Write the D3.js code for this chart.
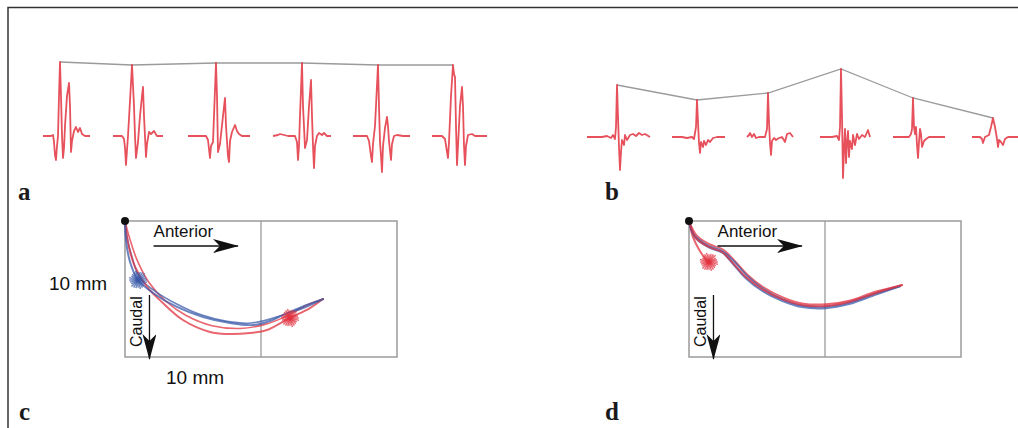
<!DOCTYPE html>
<html>
<head>
<meta charset="utf-8">
<script src="https://cdn.jsdelivr.net/npm/d3@7"></script>
<style>
  html, body { margin: 0; padding: 0; background: #fff; }
  svg { display: block; }
  .panel-label { font-family: "Liberation Serif", "DejaVu Serif", serif; font-weight: bold; fill: #1a1a1a; }
  .axis-text { font-family: "Liberation Sans", Arial, sans-serif; fill: #111; }
</style>
</head>
<body>
<svg id="fig" width="1018" height="428"></svg>
<script>
// ---- data: panel a (six responses, [time ms, amplitude]) ----
var onsetA = [0, 70, 145, 230, 310, 389];
var waveA1 = [[0,0],[8,0],[10,1],[11,-6],[12,-19],[13,-24],[14,-10],[15,0],[16,40],[17,74],[18,40],[19,0],[20,-22],[21,-12],[22,10],[24,40],[26,53],[27,30],[28,-16],[29,-5],[31,5],[33,9],[35,4],[37,8],[39,2],[42,0],[47,0]];
var waveA2 = [[0,0],[9,0],[11,-3],[12,-12],[13,-29],[14,-14],[15,0],[17,35],[19,71],[21,30],[22,0],[23,-22],[25,-6],[27,20],[29,40],[30,49],[31,20],[33,-21],[34,-8],[36,4],[38,2],[41,5],[44,0],[50,0]];
var waveA3 = [[0,0],[18,0],[20,-4],[22,-22],[23,-10],[25,-6],[26,20],[28,73],[29,40],[30,-16],[32,-8],[35,20],[37,38],[38,10],[40,-20],[41,-26],[42,-5],[44,4],[47,11],[49,5],[51,2],[54,0],[62,0]];
var waveA4 = [[0,0],[5,1],[7,2],[15,0],[22,0],[24,-6],[25,-24],[26,-10],[27,20],[29,73],[30,30],[32,-12],[34,-4],[36,30],[38,56],[39,20],[40,-10],[41,-32],[42,-10],[44,0],[46,3],[49,1],[51,3],[54,0],[58,0]];
var waveA5 = [[0,0],[14,0],[16,-5],[18,-20],[19,-26],[20,-8],[22,10],[25,71],[26,30],[27,-6],[28,-20],[29,-36],[30,-10],[32,8],[34,19],[35,10],[36,-5],[38,-24],[39,-8],[41,0],[44,1],[50,0],[57,0]];
var waveA6 = [[0,0],[10,0],[13,-3],[15,-16],[16,-22],[17,-6],[19,40],[21,71],[22,62],[23,59],[24,10],[25,-29],[26,-10],[28,30],[30,49],[31,30],[32,-10],[33,-29],[34,-10],[36,1],[40,2],[43,0],[48,0],[55,0]];

// ---- data: panel b ----
var onsetB = [0, 85, 160, 233, 306, 385];
var waveB1 = [[0,0],[15,0],[20,1],[24,-1],[26,2],[28,-2],[29,10],[30,52],[31,20],[32,-10],[33,-33],[34,-15],[35,-3],[37,-8],[38,2],[40,-3],[43,2],[46,3],[49,1],[52,4],[55,2],[58,3],[63,0]];
var waveB2 = [[0,0],[10,0],[15,-1],[20,0],[22,-2],[24,10],[25,37],[26,15],[27,-6],[28,-16],[29,-5],[31,-10],[32,-4],[34,-8],[36,-3],[38,-5],[41,-1],[45,0],[53,0]];
var waveB3 = [[0,0],[2,2],[3,4],[5,0],[7,3],[9,-1],[12,0],[18,0],[20,8],[21,44],[22,15],[23,-6],[24,-18],[25,-4],[27,-1],[29,-3],[32,-1],[35,0],[38,-5],[40,3],[43,4],[46,0]];
var waveB4 = [[0,0],[12,0],[17,1],[19,-3],[20,10],[21,68],[22,20],[23,-41],[24,-12],[25,8],[26,-26],[27,-5],[28,6],[29,-20],[30,-4],[32,-12],[33,2],[35,-8],[37,3],[39,-2],[42,2],[45,0],[48,7],[50,0]];
var waveB5 = [[0,0],[12,0],[16,0],[18,3],[19,8],[20,39],[21,10],[22,3],[23,10],[24,-8],[25,-21],[26,-5],[27,8],[28,3],[29,-10],[31,-4],[33,-2],[36,0],[40,0],[52,0]];
var waveB6 = [[0,0],[8,0],[10,-2],[11,-6],[13,0],[17,2],[19,10],[21,19],[23,10],[25,-2],[26,-10],[27,-3],[29,-5],[31,-8],[33,-2],[36,0],[46,0]];

// ---- data: panel c trajectories, [anterior mm, caudal mm] ----
var redOutC  = [[0,0],[0.22,1.62],[0.74,3.38],[1.62,4.85],[2.79,6.03],[4.26,7.28],[6.25,8.16],[7.5,8.31],[9.19,8.24],[10.44,8.01],[11.18,7.65],[12.13,7.13],[13.6,6.4],[14.56,5.74]];
var redBackC = [[14.56,5.74],[13.24,6.25],[11.76,7.05],[10.29,7.6],[8.46,7.9],[6.4,7.7],[4.5,6.95],[3.0,5.9],[1.75,4.5],[0.9,2.9],[0.35,1.3],[0.05,0.2]];
var blueOutC  = [[0,0],[0.07,1.4],[0.37,3.01],[0.96,4.34],[2.06,5.29],[3.82,6.32],[5.74,7.06],[7.72,7.5],[9.41,7.65],[10.66,7.35],[11.62,6.91],[13.09,6.4],[14.56,5.74]];
var blueBackC = [[14.56,5.74],[13.0,6.3],[11.2,7.05],[9.3,7.5],[7.5,7.38],[5.6,6.9],[3.8,6.1],[2.2,5.15],[1.1,4.2],[0.5,2.6],[0.12,1.0],[0,0]];
var starsC = [{pos:[0.96,4.34], color:"blue"}, {pos:[12.13,7.13], color:"red"}];

// ---- data: panel d trajectories ----
var redOutD  = [[0,0],[0.51,1.25],[1.47,1.91],[2.43,2.28],[3.16,3.01],[4.19,4.12],[5.37,5.0],[6.84,5.74],[8.31,6.18],[10.07,6.25],[11.76,5.96],[13.75,5.29],[15.66,4.71]];
var redBackD = [[15.66,4.71],[13.7,5.2],[11.8,5.86],[10.07,6.12],[8.3,6.05],[6.9,5.62],[5.45,4.86],[4.3,3.95],[3.3,2.85],[2.5,2.1],[1.5,1.7],[0.6,1.1],[0,0]];
var redLegD  = [[0,0],[0.3,1.2],[0.8,2.2],[1.3,2.9]];
var blueOutD  = [[0,0],[0.45,1.2],[1.5,1.95],[2.5,2.35],[3.2,3.1],[4.2,4.22],[5.37,5.12],[6.84,5.86],[8.31,6.32],[10.07,6.4],[11.76,6.1],[13.75,5.4],[15.5,4.8]];
var blueBackD = [[15.5,4.8],[13.7,5.32],[11.8,5.98],[10.07,6.28],[8.3,6.2],[6.9,5.76],[5.45,4.98],[4.3,4.05],[3.3,2.95],[2.45,2.2],[1.4,1.8],[0.3,0.9],[0,0]];
var starsD = [{pos:[1.47,3.01], color:"red"}];

var tickLabels = ["10 mm", "10 mm"];
var dirLabels = ["Anterior", "Caudal"];
var panelLabels = ["a", "b", "c", "d"];

var RED = "#e2323f", BLUE = "#3a5aa8", GRAY = "#9b9b9b";

var svg = d3.select("#fig");

// frame
svg.append("path")
  .attr("d", "M8,428 L8,7.5 L1018,7.5")
  .attr("fill", "none").attr("stroke", "#333").attr("stroke-width", 1.5);

// ---- EMG traces ----
function drawTraces(waves, onsets, x0, baseline){
  var x = d3.scaleLinear().domain([0, 450]).range([x0, x0 + 450]);
  var y = d3.scaleLinear().domain([-100, 100]).range([baseline + 100, baseline - 100]);
  var g = svg.append("g");
  var line = d3.line()
      .x(function(d){ return x(d[0]); })
      .y(function(d){ return y(d[1]); });
  var peaks = [];
  waves.forEach(function(w, i){
    var pts = w.map(function(p){ return [p[0] + onsets[i], p[1]]; });
    g.append("path").attr("d", line(pts))
      .attr("fill", "none").attr("stroke", RED)
      .attr("stroke-width", 1.8).attr("stroke-opacity", 0.85)
      .attr("stroke-linejoin", "round");
    var top = d3.greatest(pts, function(p){ return p[1]; });
    peaks.push(top);
  });
  g.insert("path", ":first-child").attr("d", line(peaks))
    .attr("fill", "none").attr("stroke", GRAY).attr("stroke-width", 1.3);
}
drawTraces([waveA1, waveA2, waveA3, waveA4, waveA5, waveA6], onsetA, 43, 136);
drawTraces([waveB1, waveB2, waveB3, waveB4, waveB5, waveB6], onsetB, 587, 137);

// ---- trajectory panels ----
var defs = svg.append("defs");
defs.append("marker").attr("id", "dart")
  .attr("viewBox", "0 0 26 14").attr("refX", 25).attr("refY", 7)
  .attr("markerWidth", 26).attr("markerHeight", 14)
  .attr("markerUnits", "userSpaceOnUse").attr("orient", "auto")
  .append("path").attr("d", "M0,0 L26,7 L0,14 L7,7 Z").attr("fill", "#111");

function drawTrajectory(x0, paths, stars, showScale){
  var x = d3.scaleLinear().domain([0, 20]).range([x0, x0 + 272]);
  var y = d3.scaleLinear().domain([0, 10]).range([221, 357]);
  var g = svg.append("g");

  g.append("rect").attr("x", x(0)).attr("y", y(0))
    .attr("width", x(20) - x(0)).attr("height", y(10) - y(0))
    .attr("fill", "none").attr("stroke", GRAY).attr("stroke-width", 1.5);
  g.append("line").attr("x1", x(10)).attr("x2", x(10)).attr("y1", y(0)).attr("y2", y(10))
    .attr("stroke", GRAY).attr("stroke-width", 1.3);

  var line = d3.line()
      .x(function(d){ return x(d[0]); })
      .y(function(d){ return y(d[1]); })
      .curve(d3.curveCatmullRom);
  paths.forEach(function(p){
    g.append("path").attr("d", line(p.data))
      .attr("fill", "none").attr("stroke", p.color == "red" ? RED : BLUE)
      .attr("stroke-width", p.w).attr("stroke-opacity", 0.75)
      .attr("stroke-linecap", "round");
  });

  stars.forEach(function(s){
    [0, 15, 30, 45].forEach(function(rot, k){
      g.append("path")
        .attr("d", d3.symbol(d3.symbolAsterisk, 170 + k * 25)())
        .attr("transform", "translate(" + x(s.pos[0]) + "," + y(s.pos[1]) + ") rotate(" + rot + ")")
        .attr("fill", "none").attr("stroke", s.color == "red" ? RED : BLUE)
        .attr("stroke-width", 1.4).attr("stroke-opacity", 0.75);
    });
  });

  g.append("circle").attr("cx", x(0)).attr("cy", y(0)).attr("r", 4).attr("fill", "#111");

  // direction arrows
  g.append("line").attr("x1", x(2.1)).attr("x2", x(8.3)).attr("y1", 246).attr("y2", 246)
    .attr("stroke", "#111").attr("stroke-width", 1.3).attr("marker-end", "url(#dart)");
  g.append("text").attr("class", "axis-text").attr("x", x(2.1)).attr("y", 237)
    .attr("font-size", 17).text(dirLabels[0]);
  g.append("line").attr("x1", x(1.8)).attr("x2", x(1.8)).attr("y1", 295).attr("y2", 359)
    .attr("stroke", "#111").attr("stroke-width", 1.3).attr("marker-end", "url(#dart)");
  g.append("text").attr("class", "axis-text")
    .attr("transform", "translate(" + (x(0) + 17) + ",347) rotate(-90)")
    .attr("font-size", 16).text(dirLabels[1]);

  if (showScale){
    g.append("text").attr("class", "axis-text").attr("x", 49).attr("y", 290)
      .attr("font-size", 19).text(tickLabels[0]);
    g.append("text").attr("class", "axis-text").attr("x", 166).attr("y", 384)
      .attr("font-size", 19).text(tickLabels[1]);
  }
}

drawTrajectory(125, [
  {data: redBackC, color: "red", w: 1.6},
  {data: blueBackC, color: "blue", w: 1.6},
  {data: redOutC, color: "red", w: 2},
  {data: blueOutC, color: "blue", w: 2}
], starsC, true);

drawTrajectory(689, [
  {data: redLegD, color: "red", w: 2},
  {data: redBackD, color: "red", w: 1.8},
  {data: blueOutD, color: "blue", w: 2.2},
  {data: blueBackD, color: "blue", w: 1.8},
  {data: redOutD, color: "red", w: 2}
], starsD, false);

// panel labels
var labelPos = [[18, 200], [605, 200], [19, 420], [605, 420]];
svg.selectAll("text.panel-label").data(panelLabels).enter().append("text")
  .attr("class", "panel-label")
  .attr("font-size", 25)
  .attr("x", function(d, i){ return labelPos[i][0]; })
  .attr("y", function(d, i){ return labelPos[i][1]; })
  .text(function(d){ return d; });
</script>
</body>
</html>
